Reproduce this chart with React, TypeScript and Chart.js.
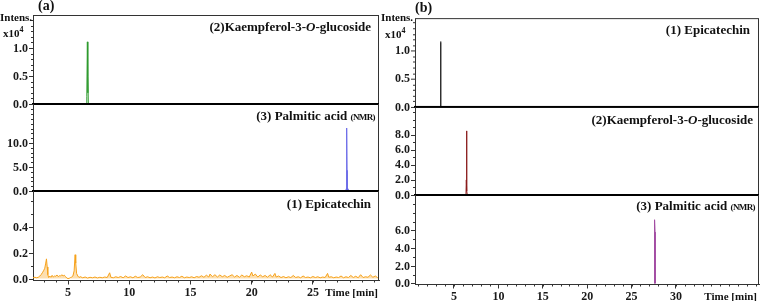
import React, { useEffect, useRef } from 'react';
import { Chart, registerables } from 'chart.js';
Chart.register(...registerables);

// ---------------- data ----------------
const xTicksA = [5, 10, 15, 20, 25];
const xTicksB = [5, 10, 15, 20, 25, 30];

// (a) top: Kaempferol-3-O-glucoside (x10^4)
const kaempA_time = [6.48, 6.52, 6.55, 6.58, 6.61, 6.63, 6.66];
const kaempA_int = [0, 0.13, 0.13, 1.11, 0.2, 0.49, 0];

// (a) middle: Palmitic acid (x10^4)
const palmA_time = [27.74, 27.76, 27.79, 27.8];
const palmA_int = [0, 13.1, 4.3, 0.2];

// (a) bottom: Epicatechin (x10^4) – noisy trace
const epiA_time = [
  2.15, 2.3, 2.45, 2.6, 2.7, 2.8, 2.9, 3.0, 3.1, 3.18, 3.24, 3.3, 3.35, 3.42, 3.5, 3.6, 3.7, 3.8, 3.9, 4.0,
  4.1, 4.2, 4.3, 4.4, 4.5, 4.6, 4.7, 4.8, 4.9, 5.0, 5.1, 5.2, 5.3, 5.4, 5.5, 5.58, 5.63, 5.7, 5.8, 5.9,
  6.0, 6.2, 6.4, 6.6, 6.8, 7.0, 7.2, 7.4, 7.6, 7.8, 8.0, 8.2, 8.4, 8.5, 8.7, 8.9, 9.1, 9.3, 9.5, 9.7,
  9.9, 10.1, 10.3, 10.5, 10.7, 10.9, 11.1, 11.3, 11.5, 11.7, 11.9, 12.1, 12.3, 12.5, 12.7, 12.9, 13.1, 13.3, 13.5, 13.7,
  13.9, 14.1, 14.3, 14.5, 14.7, 14.9, 15.1, 15.3, 15.5, 15.7, 15.9, 16.1, 16.3, 16.5, 16.6, 16.8, 17.0, 17.2, 17.4, 17.6,
  17.8, 18.0, 18.2, 18.4, 18.6, 18.8, 19.0, 19.2, 19.4, 19.6, 19.8, 20.0, 20.1, 20.3, 20.5, 20.7, 20.9, 21.1, 21.3, 21.5,
  21.7, 21.9, 22.0, 22.2, 22.4, 22.6, 22.8, 23.0, 23.2, 23.4, 23.6, 23.8, 24.0, 24.2, 24.4, 24.6, 24.8, 25.0, 25.2, 25.4,
  25.6, 25.8, 26.0, 26.2, 26.3, 26.5, 26.7, 26.9, 27.1, 27.3, 27.5, 27.7, 27.9, 28.1, 28.3, 28.5, 28.7, 28.9, 29.1, 29.3,
  29.5, 29.7, 29.9, 30.1, 30.3,
];
const epiA_int = [
  0.008, 0.010, 0.006, 0.012, 0.020, 0.030, 0.045, 0.060, 0.080, 0.120, 0.153, 0.090, 0.030, 0.008, 0.020, 0.010, 0.025, 0.012, 0.020, 0.018,
  0.028, 0.015, 0.022, 0.020, 0.030, 0.020, 0.026, 0.015, 0.004, 0.000, 0.002, 0.008, 0.012, 0.020, 0.060, 0.185, 0.120, 0.040, 0.020, 0.008,
  0.015, 0.006, 0.012, 0.004, 0.010, 0.006, 0.012, 0.005, 0.010, 0.006, 0.012, 0.008, 0.045, 0.010, 0.006, 0.014, 0.008, 0.016, 0.006, 0.020,
  0.008, 0.014, 0.006, 0.018, 0.008, 0.012, 0.030, 0.008, 0.014, 0.006, 0.012, 0.005, 0.014, 0.008, 0.012, 0.006, 0.020, 0.008, 0.012, 0.006,
  0.014, 0.008, 0.018, 0.006, 0.012, 0.008, 0.014, 0.006, 0.016, 0.010, 0.022, 0.010, 0.026, 0.012, 0.035, 0.014, 0.030, 0.012, 0.028, 0.014,
  0.024, 0.010, 0.020, 0.030, 0.012, 0.024, 0.010, 0.028, 0.014, 0.022, 0.012, 0.050, 0.020, 0.035, 0.012, 0.028, 0.014, 0.024, 0.010, 0.030,
  0.012, 0.040, 0.012, 0.020, 0.008, 0.016, 0.006, 0.014, 0.008, 0.024, 0.008, 0.014, 0.006, 0.020, 0.008, 0.012, 0.006, 0.016, 0.008, 0.014,
  0.006, 0.012, 0.008, 0.040, 0.010, 0.014, 0.006, 0.012, 0.008, 0.020, 0.006, 0.014, 0.008, 0.024, 0.008, 0.018, 0.006, 0.030, 0.008, 0.014,
  0.010, 0.028, 0.010, 0.020, 0.006,
];

// (b) top: Epicatechin (x10^4)
const epiB_time = [3.48, 3.5, 3.52];
const epiB_int = [0, 1.16, 0];

// (b) middle: Kaempferol-3-O-glucoside
const kaempB_time = [6.35, 6.39, 6.41, 6.43, 6.46, 6.5];
const kaempB_int = [0, 2.0, 0.8, 8.5, 0.5, 0];

// (b) bottom: Palmitic acid
const palmB_time = [27.55, 27.58, 27.6, 27.64, 27.66];
const palmB_int = [0, 1.4, 7.2, 5.8, 0];

const yTicksA1 = [0, 0.5, 1.0];
const yTicksA2 = [0, 5, 10];
const yTicksA3 = [0, 0.2, 0.4];
const yTicksB1 = [0, 0.5, 1.0];
const yTicksB2 = [0, 2, 4, 6, 8];
const yTicksB3 = [0, 2, 4, 6];

// ---------------- layout ----------------
const W = 761;
const H = 301;
const SERIF = '"Liberation Serif", "Times New Roman", serif';

type Sub = {
  key: string;
  colLeft: number;
  axisX: number;
  right: number;
  top: number;
  bottom: number;
  xMin: number;
  xMax: number;
  yMin: number;
  yMax: number;
  yTicks: number[];
  yMinor: number;
  xTicks?: number[];
  time: number[];
  vals: number[];
  color: string;
  lineWidth: number;
  fill?: string;
  dotLast?: boolean;
  drawTop: boolean;
  isBottom: boolean;
};

const A_X = { colLeft: 0, axisX: 33, right: 379, xMin: 2.14, xMax: 30.4 };
const B_X = { colLeft: 380, axisX: 415, right: 759, xMin: 0.61, xMax: 39.35 };

const subs: Sub[] = [
  { key: 'a1', ...A_X, top: 15, bottom: 104, yMin: 0, yMax: 1.59, yTicks: yTicksA1, yMinor: 0.1,
    time: kaempA_time, vals: kaempA_int, color: '#2f9b2f', lineWidth: 1, drawTop: true, isBottom: false },
  { key: 'a2', ...A_X, top: 104, bottom: 191, yMin: 0, yMax: 18.1, yTicks: yTicksA2, yMinor: 1,
    time: palmA_time, vals: palmA_int, color: '#6a6ae8', lineWidth: 1, dotLast: true, drawTop: false, isBottom: false },
  { key: 'a3', ...A_X, top: 191, bottom: 280.5, yMin: -0.015, yMax: 0.68, yTicks: yTicksA3, yMinor: 0.1, xTicks: xTicksA,
    time: epiA_time, vals: epiA_int, color: '#f6a21c', lineWidth: 1, fill: 'rgba(246,162,28,0.35)', drawTop: false, isBottom: true },
  { key: 'b1', ...B_X, top: 18, bottom: 106.5, yMin: 0, yMax: 1.58, yTicks: yTicksB1, yMinor: 0.1,
    time: epiB_time, vals: epiB_int, color: '#222222', lineWidth: 1, drawTop: true, isBottom: false },
  { key: 'b2', ...B_X, top: 106.5, bottom: 194.5, yMin: 0, yMax: 11.67, yTicks: yTicksB2, yMinor: 1,
    time: kaempB_time, vals: kaempB_int, color: '#8b1c1c', lineWidth: 1, drawTop: false, isBottom: false },
  { key: 'b3', ...B_X, top: 194.5, bottom: 284.5, yMin: -0.13, yMax: 10.0, yTicks: yTicksB3, yMinor: 1, xTicks: xTicksB,
    time: palmB_time, vals: palmB_int, color: '#a24ca2', lineWidth: 1, drawTop: false, isBottom: true },
];

const PAD = 10;

function SubChart({ s }: { s: Sub }) {
  const ref = useRef<HTMLCanvasElement>(null);
  const cTop = s.top - PAD;
  const cW = s.right - s.colLeft + 4;
  const cH = s.isBottom ? H - cTop : s.bottom - s.top + 2 * PAD;

  useEffect(() => {
    const tickFont = { family: SERIF, weight: 'bold' as const, size: 12 };
    const framePlugin = {
      id: 'frame_' + s.key,
      afterDraw(chart: any) {
        const { ctx, chartArea: a, scales } = chart;
        const ys = scales.y;
        const xs = scales.x;
        ctx.save();
        ctx.strokeStyle = '#333';
        ctx.lineWidth = 1;
        const i0 = Math.ceil(s.yMin / s.yMinor - 1e-9);
        const i1 = Math.floor(s.yMax / s.yMinor + 1e-9);
        ctx.beginPath();
        for (let i = i0; i <= i1; i++) {
          const py = Math.round(ys.getPixelForValue(i * s.yMinor)) + 0.5;
          ctx.moveTo(a.left - 2, py);
          ctx.lineTo(a.left, py);
        }
        for (const v of s.yTicks) {
          const py = Math.round(ys.getPixelForValue(v)) + 0.5;
          ctx.moveTo(a.left - 4, py);
          ctx.lineTo(a.left, py);
        }
        ctx.stroke();
        if (s.isBottom) {
          ctx.beginPath();
          for (let t = Math.ceil(s.xMin); t <= Math.floor(s.xMax); t++) {
            const px = Math.round(xs.getPixelForValue(t)) + 0.5;
            ctx.moveTo(px, a.bottom);
            ctx.lineTo(px, a.bottom + 2);
          }
          ctx.stroke();
        }
        if (s.drawTop) {
          ctx.beginPath();
          ctx.moveTo(a.left, Math.round(a.top) + 0.5);
          ctx.lineTo(a.right, Math.round(a.top) + 0.5);
          ctx.stroke();
        }
        ctx.beginPath();
        ctx.moveTo(Math.round(a.right) - 0.5, a.top);
        ctx.lineTo(Math.round(a.right) - 0.5, a.bottom);
        ctx.stroke();
        if (!s.isBottom) {
          ctx.strokeStyle = '#000';
          ctx.lineWidth = 2;
          ctx.beginPath();
          ctx.moveTo(a.left - 1, Math.round(a.bottom));
          ctx.lineTo(a.right, Math.round(a.bottom));
          ctx.stroke();
        }
        ctx.restore();
      },
    };

    const n = s.time.length;
    const data = s.time.map((t, i) => ({ x: t, y: s.vals[i] }));
    const chart = new Chart(ref.current!, {
      type: 'scatter',
      data: {
        datasets: [
          {
            data,
            showLine: true,
            borderColor: s.color,
            backgroundColor: s.fill || s.color,
            borderWidth: s.lineWidth,
            fill: s.fill ? 'origin' : false,
            pointRadius: (c: any) => (s.dotLast && c.dataIndex === n - 1 ? 1.8 : 0),
            pointBackgroundColor: s.color,
            pointBorderWidth: 0,
            tension: 0,
          } as any,
        ],
      },
      options: {
        animation: false,
        responsive: false,
        maintainAspectRatio: false,
        layout: { padding: { left: 0, right: 4, top: PAD, bottom: s.isBottom ? 0 : PAD } },
        plugins: { legend: { display: false }, tooltip: { enabled: false } },
        scales: {
          x: {
            type: 'linear',
            display: s.isBottom,
            min: s.xMin,
            max: s.xMax,
            afterBuildTicks: (sc: any) => {
              sc.ticks = (s.xTicks || []).map((v) => ({ value: v }));
            },
            afterFit: (sc: any) => {
              if (s.isBottom) sc.height = H - s.bottom;
            },
            grid: { display: true, drawOnChartArea: false, drawTicks: true, tickLength: 4, color: '#333' },
            border: { display: true, color: '#333', width: 1 },
            ticks: { font: tickFont, color: '#1a1a1a', padding: 1, maxRotation: 0, autoSkip: false, callback: (v: any) => String(v) },
          },
          y: {
            type: 'linear',
            min: s.yMin,
            max: s.yMax,
            afterFit: (sc: any) => {
              sc.width = s.axisX - s.colLeft;
            },
            grid: { display: false, drawOnChartArea: false, drawTicks: false },
            border: { display: true, color: '#333', width: 1 },
            ticks: { display: false },
          },
        },
      },
      plugins: [framePlugin],
    });
    return () => chart.destroy();
  }, []);

  return (
    <canvas
      ref={ref}
      width={cW}
      height={cH}
      style={{ position: 'absolute', left: s.colLeft, top: cTop, width: cW, height: cH, zIndex: 0 }}
    />
  );
}

// y tick labels (same linear mapping as the chart's y scale)
function YLabels({ s }: { s: Sub }) {
  return (
    <>
      {s.yTicks.map((v) => {
        const y = s.top + ((s.yMax - v) / (s.yMax - s.yMin)) * (s.bottom - s.top);
        return (
          <div
            key={s.key + '_' + v}
            style={{
              position: 'absolute',
              zIndex: 5,
              left: s.axisX - 5 - 30,
              width: 30,
              textAlign: 'right',
              top: y - 6,
              fontFamily: SERIF,
              fontWeight: 'bold',
              fontSize: 12,
              lineHeight: '12px',
              color: '#1a1a1a',
              whiteSpace: 'nowrap',
            }}
          >
            {v.toFixed(1)}
          </div>
        );
      })}
    </>
  );
}

function Txt({ x, y, size, right, children }: { x: number; y: number; size: number; right?: boolean; children: React.ReactNode }) {
  const st: React.CSSProperties = {
    position: 'absolute',
    zIndex: 5,
    top: y - size / 2,
    fontFamily: SERIF,
    fontWeight: 'bold',
    fontSize: size,
    lineHeight: `${size}px`,
    whiteSpace: 'nowrap',
    color: '#111',
  };
  if (right) st.right = W - x;
  else st.left = x;
  return <div style={st}>{children}</div>;
}

const Sup = ({ c }: { c: string }) => (
  <span style={{ fontSize: 8, position: 'relative', top: -5 }}>{c}</span>
);
const NMR = () => <span style={{ fontSize: 9, letterSpacing: -0.6 }}>(NMR)</span>;

export default function App() {
  return (
    <div style={{ position: 'fixed', left: 0, top: 0, width: W, height: H, background: '#fff', overflow: 'hidden' }}>
      {subs.map((s) => (
        <SubChart key={s.key} s={s} />
      ))}
      {subs.map((s) => (
        <YLabels key={'yl' + s.key} s={s} />
      ))}
      <Txt x={38} y={6} size={14}>(a)</Txt>
      <Txt x={415} y={7.5} size={14}>(b)</Txt>

      <Txt x={0} y={17} size={11}>Intens.</Txt>
      <Txt x={3} y={33} size={11}>x10<Sup c="4" /></Txt>
      <Txt x={381} y={17} size={11}>Intens.</Txt>
      <Txt x={385} y={34} size={11}>x10<Sup c="4" /></Txt>

      <Txt x={371} y={26} size={13} right>(2)Kaempferol-3-<i>O</i>-glucoside</Txt>
      <Txt x={375} y={115} size={13} right>(3) Palmitic acid <NMR /></Txt>
      <Txt x={371} y={203} size={13} right>(1) Epicatechin</Txt>

      <Txt x={750} y={29} size={13} right>(1) Epicatechin</Txt>
      <Txt x={753} y={119} size={13} right>(2)Kaempferol-3-<i>O</i>-glucoside</Txt>
      <Txt x={755} y={205} size={13} right>(3) Palmitic acid <NMR /></Txt>

      <Txt x={378} y={292} size={11} right>Time [min]</Txt>
      <Txt x={757} y={296} size={11} right>Time [min]</Txt>
    </div>
  );
}
